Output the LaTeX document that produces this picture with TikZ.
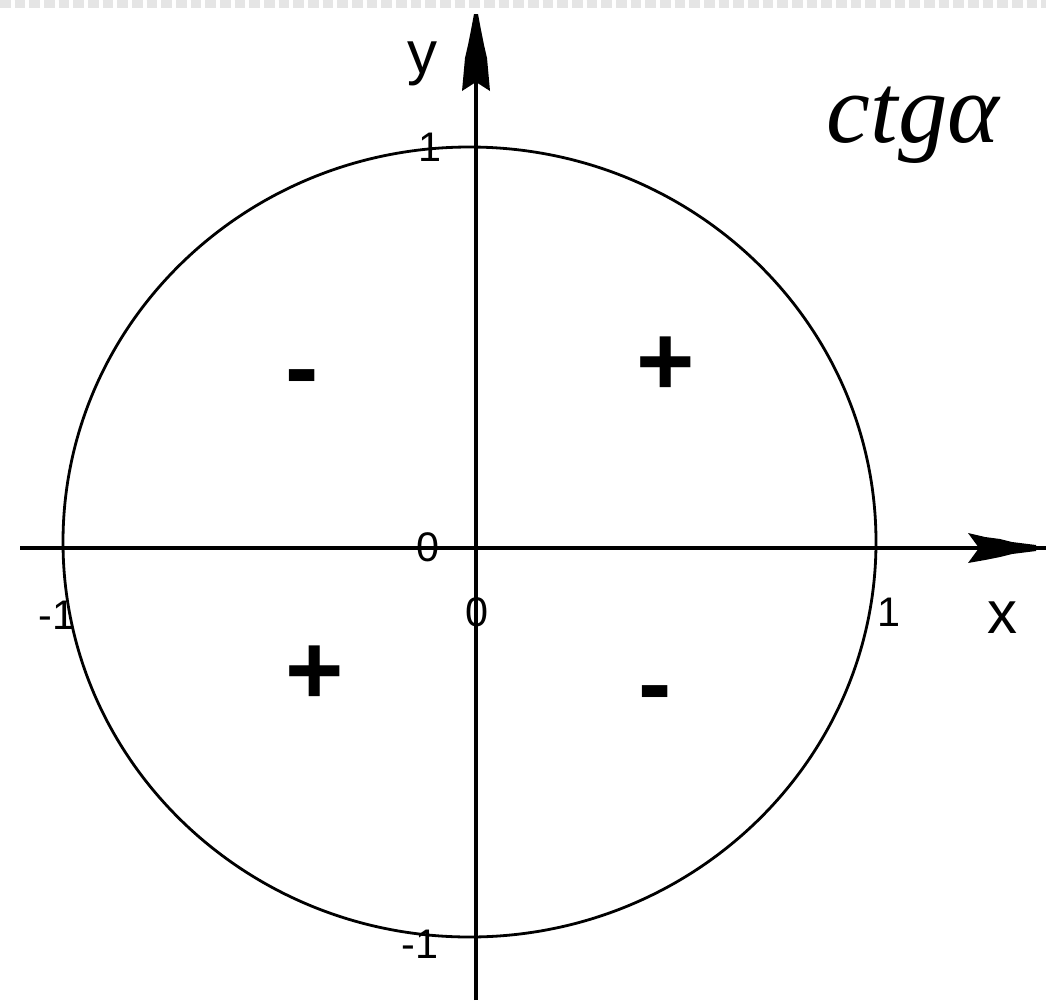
\documentclass[tikz,border=0pt]{standalone}
\usepackage{fontspec}
\setmainfont{Liberation Sans}
\newfontfamily\serifit{Liberation Serif}
\begin{document}
\begin{tikzpicture}[x=0.75pt,y=-0.75pt,
  axisline/.style={line width=2.4pt,black},
  circ/.style={line width=2.1pt,black},
  tip/.style={fill=black,draw=none},
  ticklbl/.style={inner sep=0pt,font=\fontsize{31}{31}\selectfont},
  axlbl/.style={inner sep=0pt,anchor=base,font=\fontsize{45}{45}\selectfont},
  sign/.style={inner sep=0pt,anchor=center,font=\fontsize{75}{75}\selectfont\bfseries}]
\useasboundingbox (0,0) rectangle (1046,1000);
\fill[white] (0,0) rectangle (1046,1000);
% faint top border
\draw[gray!20,line width=6pt,dash pattern=on 8pt off 3pt] (0,4) -- (1046,4);
% coordinates
\coordinate (xl) at (20,548);
\coordinate (xr) at (1046,548);
\coordinate (yt) at (476,14);
\coordinate (yb) at (476,1000);
% circle
\draw[circ] (469.5,542) ellipse [x radius=406.5, y radius=395];
% axes
\draw[axisline] (xl) -- (xr);
\draw[axisline] (yb) -- (yt);
% arrowheads
\fill[tip] (968,533) -- (985,537) -- (1000,539) -- (1012,542) -- (1036,545) -- (1036,551) -- (1012,554) -- (1000,557) -- (985,560) -- (968,563) -- (979,548) -- cycle;
\fill[tip] (462,91) -- (476,82) -- (490,91) -- (487,58) -- (484,45) -- (481,30) -- (478,14) -- (474,14) -- (471,30) -- (468,45) -- (465,58) -- cycle;
% tick labels
\node[ticklbl] (t1) at (430,147) {1};
\node[ticklbl] (tm1) at (420,944) {-1};
\node[ticklbl] (lm1) at (57,615) {-1};
\node[ticklbl] (r1) at (889,612) {1};
\node[ticklbl] (o1) at (428,547) {0};
\node[ticklbl] (o2) at (477,612) {0};
% axis labels
\node[axlbl] (ylab) at (422,73) {y};
\node[axlbl] (xlab) at (1002,633) {x};
\node[inner sep=0pt,anchor=base,font=\fontsize{74}{74}\selectfont\serifit\itshape] (title) at (913,142) {ctgα};
% signs
\node[sign] (s1) at (302,386) {-};
\node[sign] (s2) at (666,366) {+};
\node[sign] (s3) at (315,675) {+};
\node[sign] (s4) at (655,702) {-};
\end{tikzpicture}
\end{document}
